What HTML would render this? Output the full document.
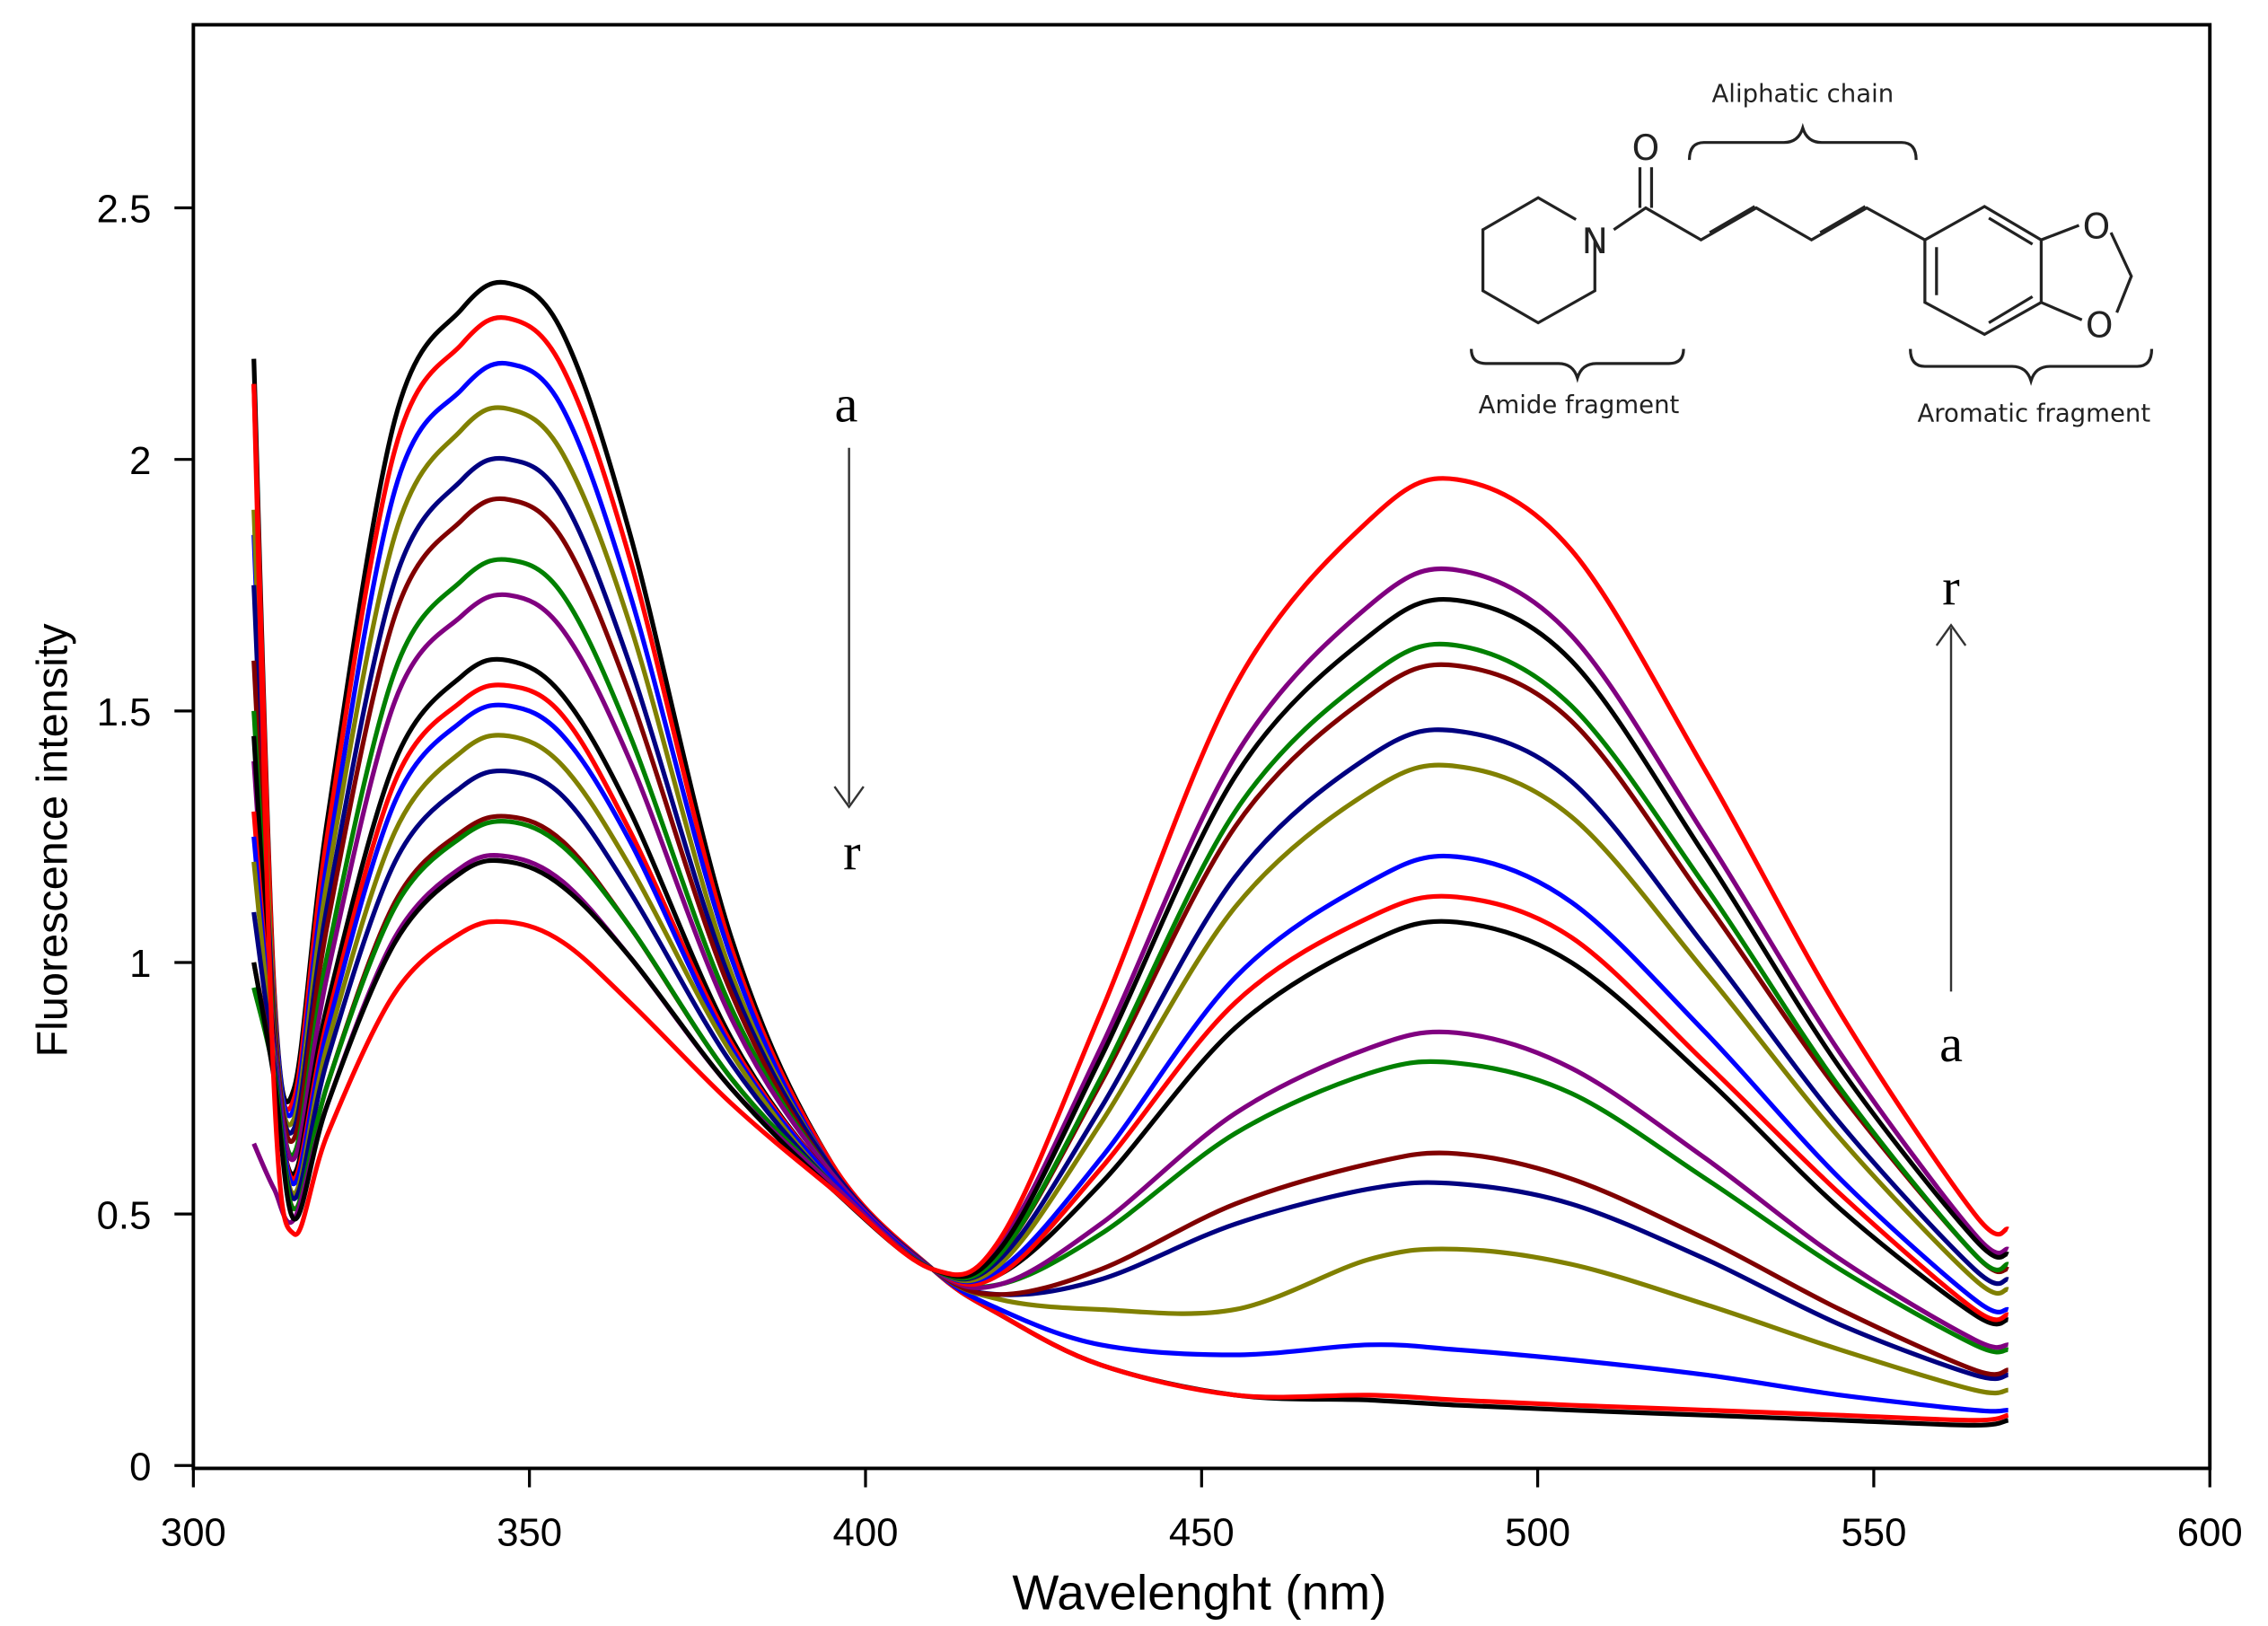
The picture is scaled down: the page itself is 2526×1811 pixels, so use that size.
<!DOCTYPE html>
<html><head><meta charset="utf-8"><style>
html,body{margin:0;padding:0;background:#fff}
svg{display:block}
</style></head><body>
<svg id="chart" width="2526" height="1811" viewBox="0 0 1560 1118.4" preserveAspectRatio="none" xmlns="http://www.w3.org/2000/svg" font-family="'Liberation Sans', sans-serif">
<rect x="0" y="0" width="1560" height="1118.4" fill="#fff"/>
<g id="series" fill="none" stroke-width="3.2" stroke-linejoin="round"></g>
<g id="axes"></g>
<g font-family="'Liberation Serif', serif" fill="#000">
  <text x="582" y="290" font-size="36" text-anchor="middle">a</text>
  <line x1="584" y1="308" x2="584" y2="553" stroke="#333" stroke-width="1.5"/>
  <path d="M574 541 L584 555 L594 541" fill="none" stroke="#333" stroke-width="1.5"/>
  <text x="586" y="598" font-size="36" text-anchor="middle">r</text>
  <text x="1342" y="416" font-size="36" text-anchor="middle">r</text>
  <line x1="1342" y1="682" x2="1342" y2="432" stroke="#333" stroke-width="1.5"/>
  <path d="M1332 444 L1342 430 L1352 444" fill="none" stroke="#333" stroke-width="1.5"/>
  <text x="1342" y="730" font-size="36" text-anchor="middle">a</text>
</g>
<g stroke="#222" stroke-width="2" fill="none">
  <path d="M1097 165 L1097 200 L1058 222 L1020 200 L1020 158 L1058 136 L1084 151"/>
  <path d="M1110 158 L1132 143 L1170 165 L1208 143 L1246 165 L1284 143 L1324 165"/>
  <path d="M1128 143 L1128 115 M1136 143 L1136 115"/>
  <path d="M1176 160 L1207 142 M1252 160 L1283 142"/>
  <path d="M1324 165 L1365 142 L1404 165 L1404 208 L1365 230 L1324 208 Z"/>
  <path d="M1332 170 L1332 203 M1368 150 L1398 168 M1368 222 L1398 204"/>
  <path d="M1404 165 L1430 155 M1404 208 L1432 220 M1452 160 L1466 190 L1456 215"/>
  <path d="M1012 240 q0 10 10 10 h50 q10 0 13 10 q3 -10 13 -10 h50 q10 0 10 -10"/>
  <path d="M1162 110 q0 -12 10 -12 h55 q10 0 13 -10 q3 10 13 10 h55 q10 0 10 12"/>
  <path d="M1314 240 q0 12 10 12 h60 q10 0 13 10 q3 -10 13 -10 h60 q10 0 10 -12"/>
</g>
<g fill="#222" font-family="'DejaVu Sans', sans-serif">
  <text x="1097" y="174" font-size="24" text-anchor="middle">N</text>
  <text x="1132" y="110" font-size="24" text-anchor="middle">O</text>
  <text x="1442" y="164" font-size="24" text-anchor="middle">O</text>
  <text x="1444" y="232" font-size="24" text-anchor="middle">O</text>
  <text x="1240" y="70" font-size="17" text-anchor="middle">Aliphatic chain</text>
  <text x="1086" y="284" font-size="17" text-anchor="middle">Amide fragment</text>
  <text x="1399" y="290" font-size="17" text-anchor="middle">Aromatic fragment</text>
</g>
</svg>
<script>
const wavelengths = [309,312,315,320,330,340,347,355,365,380,395,410,420,435,455,475,488,505,525,545,565,570];
const seriesColors = ["#000000","#ff0000","#0000ff","#808000","#000080","#800000","#008000","#800080","#000000","#ff0000","#0000ff","#808000","#000080","#800000","#008000","#800080","#000000","#ff0000"];
const seriesA = [2.20,0.95,0.75,1.29,2.08,2.30,2.35,2.25,1.85,1.05,0.60,0.39,0.30,0.20,0.14,0.13,0.12,0.11,0.10,0.09,0.08,0.09];
const seriesB = [2.15,0.94,0.73,1.26,2.02,2.23,2.28,2.18,1.80,1.03,0.60,0.39,0.30,0.20,0.14,0.14,0.13,0.12,0.11,0.10,0.09,0.10];
const seriesC = [1.85,0.92,0.71,1.21,1.94,2.14,2.19,2.10,1.73,1.01,0.59,0.39,0.31,0.24,0.22,0.24,0.23,0.21,0.18,0.14,0.11,0.11];
const seriesD = [1.90,0.91,0.69,1.17,1.85,2.06,2.10,2.01,1.67,0.98,0.59,0.39,0.33,0.31,0.31,0.41,0.43,0.40,0.32,0.23,0.15,0.15];
const seriesE = [1.75,0.89,0.67,1.12,1.76,1.96,2.00,1.92,1.59,0.96,0.59,0.39,0.34,0.37,0.48,0.55,0.56,0.52,0.41,0.28,0.18,0.18];
const seriesF = [1.60,0.88,0.65,1.08,1.69,1.88,1.92,1.84,1.53,0.94,0.58,0.39,0.34,0.39,0.52,0.60,0.62,0.57,0.45,0.31,0.19,0.19];
const seriesG = [1.50,0.86,0.62,1.02,1.58,1.76,1.80,1.73,1.45,0.91,0.58,0.39,0.36,0.46,0.66,0.78,0.80,0.74,0.57,0.39,0.24,0.23];
const seriesH = [1.40,0.85,0.61,0.98,1.52,1.69,1.73,1.66,1.40,0.89,0.58,0.39,0.36,0.48,0.70,0.83,0.86,0.79,0.61,0.41,0.25,0.24];
const seriesI = [1.45,0.83,0.58,0.92,1.40,1.57,1.60,1.53,1.30,0.85,0.57,0.39,0.38,0.56,0.87,1.04,1.08,1.00,0.77,0.51,0.30,0.29];
const seriesJ = [1.30,0.82,0.57,0.89,1.36,1.52,1.55,1.49,1.26,0.84,0.57,0.39,0.38,0.59,0.92,1.09,1.13,1.05,0.80,0.54,0.31,0.30];
const seriesK = [1.25,0.82,0.56,0.87,1.32,1.48,1.51,1.45,1.24,0.83,0.57,0.39,0.39,0.61,0.97,1.16,1.21,1.12,0.86,0.57,0.33,0.31];
const seriesL = [1.20,0.81,0.54,0.84,1.26,1.42,1.45,1.39,1.19,0.82,0.56,0.39,0.40,0.68,1.11,1.34,1.39,1.29,0.98,0.65,0.37,0.35];
const seriesM = [1.10,0.80,0.53,0.81,1.20,1.35,1.38,1.33,1.14,0.80,0.56,0.39,0.41,0.71,1.17,1.41,1.46,1.36,1.03,0.68,0.39,0.37];
const seriesN = [1.00,0.78,0.51,0.76,1.12,1.26,1.29,1.24,1.07,0.77,0.56,0.39,0.42,0.76,1.27,1.53,1.59,1.48,1.12,0.74,0.42,0.39];
const seriesO = [0.95,0.78,0.51,0.76,1.11,1.25,1.28,1.23,1.07,0.77,0.56,0.39,0.42,0.77,1.30,1.57,1.63,1.51,1.15,0.75,0.42,0.40];
const seriesP = [0.64,0.55,0.49,0.72,1.05,1.19,1.21,1.16,1.01,0.75,0.56,0.39,0.44,0.83,1.41,1.71,1.78,1.65,1.25,0.82,0.46,0.43];
const seriesQ = [1.00,0.77,0.49,0.72,1.04,1.18,1.20,1.15,1.01,0.75,0.55,0.39,0.43,0.81,1.37,1.65,1.72,1.60,1.21,0.79,0.45,0.42];
const seriesR = [2.15,0.75,0.46,0.66,0.94,1.06,1.08,1.04,0.92,0.72,0.55,0.39,0.45,0.90,1.55,1.88,1.96,1.82,1.38,0.90,0.50,0.47];
const seriesNames = ["a","b","c","d","e","f","g","h","i","j","k","l","m","n","o","p","q","r"];
const xTicks = [300,350,400,450,500,550,600];
const yTicks = [0,0.5,1,1.5,2,2.5];
const yTickLabels = ["0","0.5","1","1.5","2","2.5"];

const allSeries = [seriesA,seriesB,seriesC,seriesD,seriesE,seriesF,seriesG,seriesH,seriesI,seriesJ,seriesK,seriesL,seriesM,seriesN,seriesO,seriesP,seriesQ,seriesR];
const NS = "http://www.w3.org/2000/svg";
function xScale(w){ return 133 + (w - 300) * (1520 - 133) / 300; }
function yScale(v){ return 1008 - v * (1008 - 143) / 2.5; }

function pathFor(vals){
  const pts = vals.map((v,i)=>[xScale(wavelengths[i]), yScale(v)]);
  let d = "M" + pts[0][0].toFixed(1) + " " + pts[0][1].toFixed(1);
  for (let i=0;i<pts.length-1;i++){
    const p0 = pts[Math.max(0,i-1)], p1 = pts[i], p2 = pts[i+1], p3 = pts[Math.min(pts.length-1,i+2)];
    const c1x = p1[0] + (p2[0]-p0[0])/6, c1y = p1[1] + (p2[1]-p0[1])/6;
    const c2x = p2[0] - (p3[0]-p1[0])/6, c2y = p2[1] - (p3[1]-p1[1])/6;
    d += " C" + c1x.toFixed(1)+" "+c1y.toFixed(1)+" "+c2x.toFixed(1)+" "+c2y.toFixed(1)+" "+p2[0].toFixed(1)+" "+p2[1].toFixed(1);
  }
  return d;
}

const sg = document.getElementById("series");
allSeries.forEach((vals, k)=>{
  const p = document.createElementNS(NS,"path");
  p.setAttribute("d", pathFor(vals));
  p.setAttribute("stroke", seriesColors[k]);
  
  
  sg.appendChild(p);
});

const ag = document.getElementById("axes");
function mk(tag, attrs){ const e = document.createElementNS(NS, tag); for (const k in attrs) e.setAttribute(k, attrs[k]); ag.appendChild(e); return e; }
const frame = mk("path",{d:"M133 17 H1520 V1010 H133 Z", fill:"none", stroke:"#000", "stroke-width":"2.4"});


xTicks.forEach(t=>{
  const x = xScale(t);
  const l = mk("line",{x1:x, y1:1010, x2:x, y2:1023, stroke:"#000", "stroke-width":"2"});
  
  
  const tx = mk("text",{x:x, y:1063, "font-size":"27", "text-anchor":"middle", fill:"#000"});
  tx.textContent = t;
  
  
});
yTicks.forEach((t,i)=>{
  const y = yScale(t);
  const l = mk("line",{x1:120, y1:y, x2:133, y2:y, stroke:"#000", "stroke-width":"2"});
  
  
  const tx = mk("text",{x:104, y:y+10, "font-size":"27", "text-anchor":"end", fill:"#000"});
  tx.textContent = yTickLabels[i];
  
  
});
const xt = mk("text",{x:825, y:1107, "font-size":"34", "text-anchor":"middle", fill:"#000"});
xt.textContent = "Wavelenght (nm)";


const yt = mk("text",{x:0, y:0, "font-size":"30", "text-anchor":"middle", fill:"#000", transform:"translate(46 578) rotate(-90)"});
yt.textContent = "Fluorescence intensity";


</script>
</body></html>
